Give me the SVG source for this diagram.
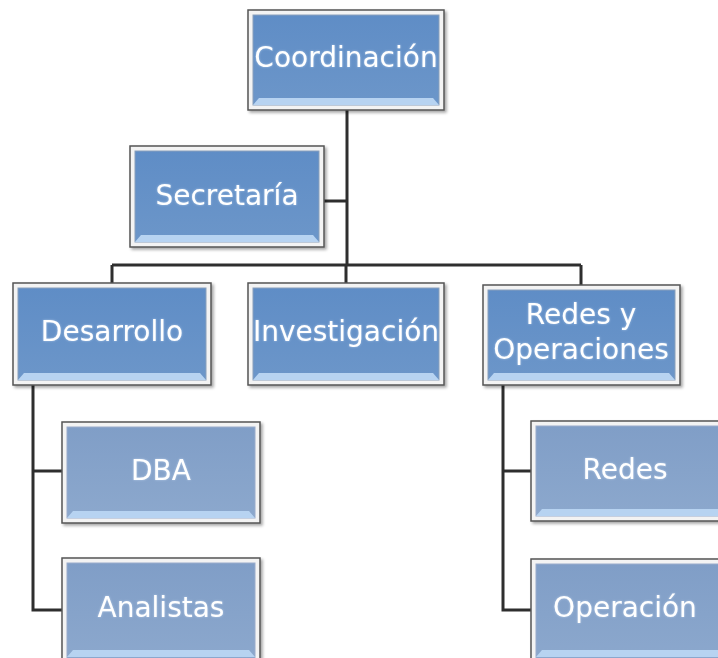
<svg xmlns="http://www.w3.org/2000/svg" width="718" height="658" viewBox="0 0 718 658">
<defs>
<linearGradient id="gTop" x1="0" y1="0" x2="0" y2="1">
<stop offset="0" stop-color="#5f8dc6"/><stop offset="1" stop-color="#6c96c9"/>
</linearGradient>
<linearGradient id="gLow" x1="0" y1="0" x2="0" y2="1">
<stop offset="0" stop-color="#809ec7"/><stop offset="1" stop-color="#8ca8cd"/>
</linearGradient>
<filter id="sh" x="-10%" y="-10%" width="125%" height="130%">
<feDropShadow dx="2" dy="2" stdDeviation="1.5" flood-color="#000" flood-opacity="0.35"/>
</filter>
<filter id="glow" x="-10%" y="-20%" width="120%" height="140%">
<feGaussianBlur in="SourceAlpha" stdDeviation="1.2" result="b"/>
<feFlood flood-color="#dfeeff" flood-opacity="0.5"/>
<feComposite in2="b" operator="in" result="g"/>
<feMerge><feMergeNode in="g"/><feMergeNode in="SourceGraphic"/></feMerge>
</filter>
</defs>
<style>
.frame{fill:#f3f3f3;stroke:#555;stroke-width:1.5;filter:url(#sh)}
.top{fill:url(#gTop);stroke:#8aa0bb;stroke-width:1}
.low{fill:url(#gLow);stroke:#9aaccb;stroke-width:1}
.bev{fill:#b7d3f1}
.lbl{font-family:"DejaVu Sans","Noto Sans",sans-serif;font-size:28px;fill:#ffffff;text-anchor:middle;dominant-baseline:central;filter:url(#glow)}
.con{fill:none;stroke:#2e2e2e;stroke-width:3}
</style>
<rect width="718" height="658" fill="#ffffff"/>
<g id="connectors">
<path class="con" d="M347 110V265M324 201H347M112 265H581M112 265V283M346 265V283M581 265V285"/>
<path class="con" d="M33 385V610H62M33 471H62M503 385V610H531M503 471H531"/>
</g>
<g id="coordinacion">
<rect class="frame" x="248" y="10" width="196" height="100"/>
<rect class="top" x="253" y="15" width="186" height="90"/>
<path class="bev" d="M253 105L259 98H433L439 105Z"/>
<text class="lbl" x="346" y="57">Coordinación</text>
</g>
<g id="secretaria">
<rect class="frame" x="130" y="146" width="194" height="101"/>
<rect class="top" x="135" y="151" width="184" height="91"/>
<path class="bev" d="M135 242L141 235H313L319 242Z"/>
<text class="lbl" x="227" y="195">Secretaría</text>
</g>
<g id="desarrollo">
<rect class="frame" x="13" y="283" width="198" height="102"/>
<rect class="top" x="18" y="288" width="188" height="92"/>
<path class="bev" d="M18 380L24 373H200L206 380Z"/>
<text class="lbl" x="112" y="331">Desarrollo</text>
</g>
<g id="investigacion">
<rect class="frame" x="248" y="283" width="196" height="102"/>
<rect class="top" x="253" y="288" width="186" height="92"/>
<path class="bev" d="M253 380L259 373H433L439 380Z"/>
<text class="lbl" x="346" y="331">Investigación</text>
</g>
<g id="redes-operaciones">
<rect class="frame" x="483" y="285" width="197" height="100"/>
<rect class="top" x="488" y="290" width="187" height="90"/>
<path class="bev" d="M488 380L494 373H669L675 380Z"/>
<text class="lbl" x="581" y="314">Redes y</text>
<text class="lbl" x="581" y="349">Operaciones</text>
</g>
<g id="dba">
<rect class="frame" x="62" y="422" width="198" height="101"/>
<rect class="low" x="67" y="427" width="188" height="91"/>
<path class="bev" d="M67 518L73 511H249L255 518Z"/>
<text class="lbl" x="161" y="470">DBA</text>
</g>
<g id="analistas">
<rect class="frame" x="62" y="558" width="198" height="110"/>
<rect class="low" x="67" y="563" width="188" height="100"/>
<path class="bev" d="M67 657L73 650H249L255 657Z"/>
<text class="lbl" x="161" y="607">Analistas</text>
</g>
<g id="redes">
<rect class="frame" x="531" y="421" width="200" height="100"/>
<rect class="low" x="536" y="426" width="190" height="90"/>
<path class="bev" d="M536 516L542 509H720L726 516Z"/>
<text class="lbl" x="625" y="469">Redes</text>
</g>
<g id="operacion">
<rect class="frame" x="531" y="559" width="200" height="110"/>
<rect class="low" x="536" y="564" width="190" height="100"/>
<path class="bev" d="M536 657L542 650H720L726 657Z"/>
<text class="lbl" x="625" y="607">Operación</text>
</g>
</svg>
